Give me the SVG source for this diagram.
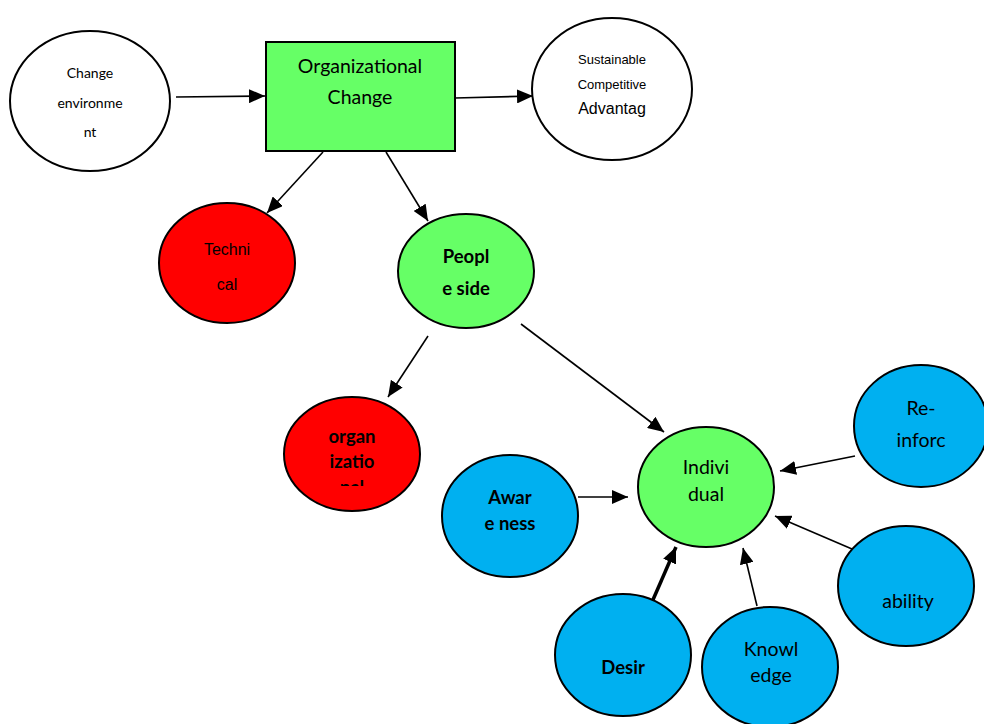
<svg xmlns="http://www.w3.org/2000/svg" width="984" height="724" viewBox="0 0 984 724">
<style>
.n{stroke:#000;stroke-width:2}
.g{fill:#66FF66}.r{fill:#FF0000}.b{fill:#00B0F0}.w{fill:#fff}
.c{font-family:Lato,"Open Sans",sans-serif;fill:#000;text-anchor:middle}
.a{font-family:"Liberation Sans",Arial,sans-serif;fill:#000;text-anchor:middle}
.bold{font-weight:bold}
.e{stroke:#000;stroke-width:1.6;fill:none;marker-end:url(#ah)}
</style>
<defs>
<marker id="ah" markerUnits="userSpaceOnUse" markerWidth="18" markerHeight="14" refX="16" refY="7" orient="auto">
<path d="M0,0 L16,7 L0,14 Z" fill="#000"/>
</marker>
<clipPath id="orgclip"><rect x="280" y="395" width="145" height="91"/></clipPath>
</defs>
<g id="connectors">
<line class="e" x1="176" y1="97" x2="265" y2="96"/>
<line class="e" x1="455" y1="98" x2="533" y2="96"/>
<line class="e" x1="323" y1="152" x2="267" y2="213"/>
<line class="e" x1="386" y1="152" x2="428" y2="221"/>
<line class="e" x1="428" y1="336" x2="388" y2="397"/>
<line class="e" x1="521" y1="324" x2="664" y2="432"/>
<line class="e" x1="578" y1="497" x2="628" y2="497"/>
<line class="e" x1="855" y1="456" x2="780" y2="471"/>
<line class="e" x1="852" y1="549" x2="775" y2="516"/>
<line class="e" x1="652" y1="602" x2="676" y2="547" style="stroke-width:3.5"/>
<line class="e" x1="757" y1="606" x2="743" y2="548"/>
</g>
<g id="change-environment">
<ellipse class="n w" cx="90" cy="101" rx="80" ry="70"/>
<text class="c" x="90" y="78" font-size="14">Change</text>
<text class="c" x="90" y="108" font-size="14">environme</text>
<text class="c" x="90" y="137" font-size="14">nt</text>
</g>
<g id="organizational-change">
<rect class="n g" x="266" y="42" width="189" height="109"/>
<text class="c" x="360" y="73" font-size="19.5">Organizational</text>
<text class="c" x="360" y="104" font-size="19.5">Change</text>
</g>
<g id="sustainable">
<ellipse class="n w" cx="612" cy="89" rx="80" ry="71"/>
<text class="a" x="612" y="64" font-size="13">Sustainable</text>
<text class="a" x="612" y="89" font-size="13">Competitive</text>
<text class="a" x="612" y="114" font-size="16">Advantag</text>
</g>
<g id="technical">
<ellipse class="n r" cx="227" cy="263" rx="68" ry="60"/>
<text class="a" x="227" y="255" font-size="16">Techni</text>
<text class="a" x="227" y="290" font-size="16">cal</text>
</g>
<g id="people-side">
<ellipse class="n g" cx="466" cy="271" rx="68" ry="57"/>
<text class="c bold" x="466" y="263" font-size="18.5">Peopl</text>
<text class="c bold" x="466" y="295" font-size="18.5">e side</text>
</g>
<g id="organizational">
<ellipse class="n r" cx="352" cy="454" rx="68" ry="57"/>
<g clip-path="url(#orgclip)">
<text class="c bold" x="352" y="443" font-size="18.5">organ</text>
<text class="c bold" x="352" y="468" font-size="18.5">izatio</text>
<text class="c bold" x="352" y="494" font-size="18.5">nal</text>
</g>
</g>
<g id="individual">
<ellipse class="n g" cx="706" cy="487" rx="68" ry="60"/>
<text class="c" x="706" y="474" font-size="19.5">Indivi</text>
<text class="c" x="706" y="501" font-size="19.5">dual</text>
</g>
<g id="awareness">
<ellipse class="n b" cx="510" cy="516" rx="68" ry="61"/>
<text class="c bold" x="510" y="504" font-size="18.5">Awar</text>
<text class="c bold" x="510" y="530" font-size="18.5">e ness</text>
</g>
<g id="reinforc">
<ellipse class="n b" cx="921" cy="426" rx="67" ry="61"/>
<text class="c" x="921" y="415" font-size="19.5">Re-</text>
<text class="c" x="921" y="447" font-size="19.5">inforc</text>
</g>
<g id="ability">
<ellipse class="n b" cx="906" cy="586" rx="68" ry="60"/>
<text class="c" x="908" y="608" font-size="19.5">ability</text>
</g>
<g id="desir">
<ellipse class="n b" cx="623" cy="655" rx="68" ry="61"/>
<text class="c bold" x="623" y="674" font-size="18.5">Desir</text>
</g>
<g id="knowledge">
<ellipse class="n b" cx="770" cy="667" rx="68" ry="60"/>
<text class="c" x="771" y="656" font-size="19.5">Knowl</text>
<text class="c" x="771" y="682" font-size="19.5">edge</text>
</g>
</svg>
